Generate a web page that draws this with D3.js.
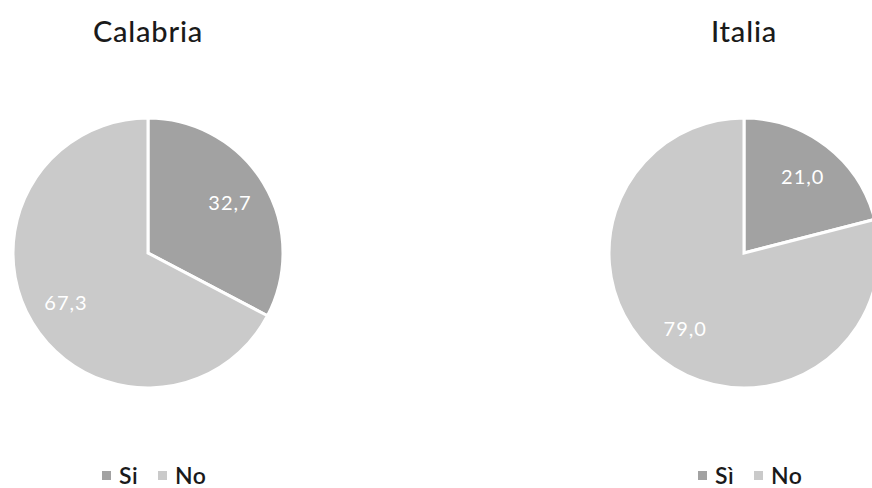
<!DOCTYPE html>
<html>
<head>
<meta charset="utf-8">
<script src="https://cdn.jsdelivr.net/npm/d3@7"></script>
<style>
  html, body { margin: 0; padding: 0; background: #fff; }
  svg { display: block; font-family: Lato, "Open Sans", sans-serif; }
</style>
</head>
<body>
<svg id="chart" width="872" height="488"></svg>
<script>
const regions = ["Calabria", "Italia"];
const categories = ["Sì", "No"];
const legendLabels = [["Si", "No"], ["Sì", "No"]];
const calabriaValues = [32.7, 67.3];
const italiaValues = [21.0, 79.0];
const seriesValues = [calabriaValues, italiaValues];
const colors = ["#a2a2a2", "#cacaca"];

const svg = d3.select("#chart");
const centersX = [148, 744];
const cy = 253;
const r = 135;
const color = d3.scaleOrdinal().domain(categories).range(colors);
const fmt = v => d3.format(".1f")(v).replace(".", ",");

const pie = d3.pie().sort(null).value(d => d.value);
const arc = d3.arc().innerRadius(0).outerRadius(r);
const labelArc = d3.arc().innerRadius(r * 0.71).outerRadius(r * 0.71);

regions.forEach((name, i) => {
  const cx = centersX[i];
  const data = categories.map((c, j) => ({ cat: c, value: seriesValues[i][j] }));
  const g = svg.append("g").attr("transform", `translate(${cx},${cy})`);
  const arcs = pie(data);
  g.selectAll("path").data(arcs).join("path")
    .attr("d", arc)
    .attr("fill", d => color(d.data.cat))
    .attr("stroke", "#fff")
    .attr("stroke-width", 3)
    .attr("stroke-linejoin", "miter");
  g.selectAll("text").data(arcs).join("text")
    .attr("transform", d => `translate(${labelArc.centroid(d)})`)
    .attr("text-anchor", "middle")
    .attr("dy", "0.35em")
    .attr("fill", "#fff")
    .attr("font-size", 20)
    .attr("letter-spacing", 1)
    .text(d => fmt(d.data.value));

  svg.append("text")
    .attr("x", cx).attr("y", 42)
    .attr("text-anchor", "middle")
    .attr("font-size", 29)
    .attr("letter-spacing", 0.8)
    .attr("font-weight", 500)
    .attr("fill", "#1a1a1a")
    .text(name);

  // legend
  const lg = svg.append("g").attr("transform", `translate(${cx},476)`);
  const items = legendLabels[i];
  const offsets = [-46, 10];
  items.forEach((lab, j) => {
    lg.append("rect")
      .attr("x", offsets[j]).attr("y", -5)
      .attr("width", 9).attr("height", 9)
      .attr("fill", colors[j]);
    lg.append("text")
      .attr("x", offsets[j] + 17).attr("y", 0)
      .attr("dy", "0.35em")
      .attr("font-size", 23)
      .attr("letter-spacing", 0.5)
      .attr("font-weight", 600)
      .attr("fill", "#1a1a1a")
      .text(lab);
  });
});
</script>
</body>
</html>
